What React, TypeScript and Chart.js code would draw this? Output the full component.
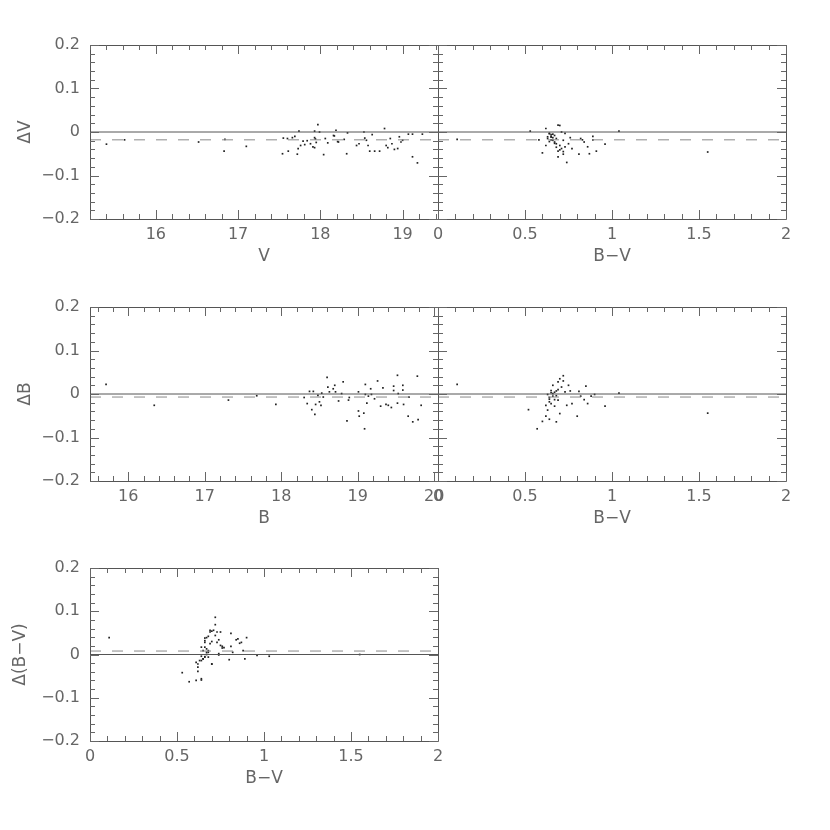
import React, { useEffect, useRef } from 'react';
import { Chart, registerables } from 'chart.js';

Chart.register(...registerables);

// ---------- data ----------
// Panel 1: ΔV vs V
const p1V = [15.40, 15.62, 16.52, 16.83, 16.84, 17.10, 17.54, 17.55, 17.60, 17.61, 17.66, 17.69, 17.72, 17.73, 17.74, 17.76, 17.79, 17.81, 17.84, 17.88, 17.93, 17.93, 17.93, 17.97, 17.95, 17.99, 18.04, 18.06, 18.09, 18.17, 18.19, 18.22, 18.32, 18.33, 18.29, 18.44, 18.47, 18.53, 18.54, 18.56, 18.58, 18.60, 18.63, 18.66, 18.72, 18.78, 18.80, 18.82, 18.85, 18.87, 18.90, 18.94, 18.96, 18.98, 19.00, 19.07, 19.12, 19.12, 19.18, 19.24, 17.94, 17.91, 18.21, 18.16];
const p1dV = [-0.028, -0.018, -0.023, -0.044, -0.017, -0.033, -0.050, -0.014, -0.015, -0.044, -0.013, -0.010, -0.051, -0.038, 0.002, -0.031, -0.021, -0.029, -0.020, -0.027, -0.036, -0.013, 0.002, 0.017, -0.024, 0.000, -0.052, -0.015, -0.025, -0.009, 0.004, -0.023, -0.050, -0.002, -0.017, -0.031, -0.027, 0.000, -0.014, -0.019, -0.031, -0.044, -0.006, -0.044, -0.044, 0.008, -0.031, -0.036, -0.015, -0.027, -0.040, -0.038, -0.011, -0.023, -0.019, -0.005, -0.005, -0.057, -0.071, -0.005, -0.016, -0.034, -0.022, -0.008];

// Panel 2: ΔV vs B−V
const p2BV = [0.11, 0.53, 0.58, 0.60, 0.62, 0.62, 0.63, 0.64, 0.65, 0.65, 0.66, 0.66, 0.67, 0.67, 0.68, 0.68, 0.69, 0.69, 0.70, 0.70, 0.71, 0.71, 0.72, 0.72, 0.73, 0.74, 0.75, 0.76, 0.77, 0.81, 0.82, 0.83, 0.84, 0.86, 0.87, 0.89, 0.89, 0.91, 0.96, 1.04, 1.55, 0.64, 0.65, 0.66, 0.64, 0.67, 0.68, 0.70, 0.72, 0.69, 0.73, 0.63, 0.65];
const p2dV = [-0.017, 0.002, -0.018, -0.048, 0.008, -0.031, -0.011, -0.004, -0.010, -0.018, -0.005, -0.013, -0.023, -0.008, -0.027, -0.015, -0.057, -0.044, 0.015, -0.031, 0.000, -0.038, -0.019, -0.051, -0.034, -0.070, -0.027, -0.013, -0.038, -0.051, -0.015, -0.018, -0.023, -0.034, -0.050, -0.010, -0.018, -0.044, -0.028, 0.002, -0.046, -0.003, -0.012, -0.019, -0.022, -0.026, -0.035, -0.041, -0.045, 0.016, -0.003, -0.015, -0.006];

// Panel 3: ΔB vs B
const p3B = [15.71, 16.34, 17.31, 17.68, 17.93, 18.30, 18.34, 18.37, 18.40, 18.42, 18.44, 18.45, 18.48, 18.50, 18.52, 18.53, 18.55, 18.60, 18.61, 18.63, 18.68, 18.70, 18.71, 18.75, 18.79, 18.81, 18.86, 18.88, 18.89, 19.01, 19.01, 19.02, 19.08, 19.09, 19.10, 19.10, 19.12, 19.14, 19.17, 19.18, 19.22, 19.26, 19.30, 19.33, 19.37, 19.40, 19.44, 19.47, 19.47, 19.52, 19.52, 19.53, 19.59, 19.59, 19.60, 19.66, 19.67, 19.72, 19.79, 19.78, 19.83];
const p3dB = [0.022, -0.026, -0.014, -0.004, -0.024, -0.008, -0.022, 0.006, -0.036, 0.006, -0.047, -0.024, -0.003, -0.018, -0.026, 0.002, -0.007, 0.038, 0.016, 0.005, 0.012, 0.020, 0.005, -0.016, 0.001, 0.028, -0.062, -0.014, -0.008, 0.005, -0.039, -0.051, -0.044, -0.080, 0.022, -0.001, -0.021, -0.005, 0.012, -0.001, -0.011, 0.030, -0.028, 0.014, -0.024, -0.026, -0.031, 0.008, 0.018, 0.043, -0.021, 0.001, 0.020, 0.009, -0.024, -0.051, -0.007, -0.064, -0.059, 0.041, -0.026];

// Panel 4: ΔB vs B−V
const p4BV = [0.11, 0.52, 0.57, 0.60, 0.62, 0.62, 0.63, 0.63, 0.64, 0.64, 0.64, 0.65, 0.65, 0.66, 0.66, 0.66, 0.67, 0.67, 0.68, 0.68, 0.69, 0.69, 0.69, 0.70, 0.70, 0.71, 0.72, 0.72, 0.73, 0.74, 0.75, 0.76, 0.77, 0.80, 0.81, 0.82, 0.84, 0.85, 0.86, 0.88, 0.90, 0.96, 1.04, 1.55, 0.65, 0.67, 0.68, 0.64];
const p4dB = [0.022, -0.036, -0.080, -0.063, -0.051, -0.026, -0.037, -0.001, -0.058, -0.008, -0.018, 0.008, -0.022, 0.001, 0.020, -0.005, -0.028, -0.013, 0.007, -0.064, 0.028, -0.014, 0.010, 0.035, -0.045, 0.016, 0.030, 0.042, 0.005, -0.026, 0.020, 0.007, -0.022, -0.051, 0.006, -0.005, -0.013, 0.018, -0.022, -0.005, -0.001, -0.028, 0.002, -0.044, 0.003, 0.004, -0.004, -0.012];

// Panel 5: Δ(B−V) vs B−V
const p5BV = [0.11, 0.53, 0.57, 0.62, 0.64, 0.62, 0.64, 0.65, 0.66, 0.67, 0.67, 0.68, 0.66, 0.66, 0.67, 0.69, 0.69, 0.70, 0.70, 0.72, 0.72, 0.73, 0.74, 0.74, 0.75, 0.76, 0.77, 0.80, 0.81, 0.81, 0.82, 0.84, 0.86, 0.88, 0.89, 0.90, 0.96, 1.03, 1.55, 0.69, 0.71, 0.66, 0.68, 0.72, 0.66, 0.70, 0.73, 0.75, 0.76, 0.64, 0.65, 0.67, 0.68, 0.64, 0.65, 0.63, 0.66, 0.61, 0.62, 0.70, 0.68, 0.87, 0.85, 0.74, 0.61, 0.64];
const p5dBV = [0.039, -0.042, -0.063, -0.039, -0.059, -0.022, -0.014, -0.010, -0.005, 0.000, 0.005, 0.009, 0.017, 0.032, 0.039, 0.052, 0.025, -0.022, 0.054, 0.086, 0.069, 0.052, 0.034, 0.002, 0.052, 0.019, 0.016, -0.012, 0.049, 0.019, 0.005, 0.034, 0.026, 0.009, -0.010, 0.039, -0.002, -0.004, 0.000, 0.056, 0.056, 0.038, 0.042, 0.044, 0.028, 0.030, 0.028, 0.021, 0.015, 0.017, 0.009, 0.013, 0.005, -0.004, -0.010, -0.014, -0.006, -0.018, -0.029, -0.022, -0.006, 0.028, 0.036, -0.001, -0.060, -0.056];

// axis ticks
const yMajor = [-0.2, -0.1, 0, 0.1, 0.2];
const vMajor = [16, 17, 18, 19];
const bMajor = [16, 17, 18, 19, 20];
const bvMajor = [0, 0.5, 1, 1.5, 2];

// mean offsets (dashed lines)
const offsetDV = -0.018;
const offsetDB = -0.007;
const offsetDBV = 0.008;

// ---------- styling ----------
const TEXT = '#666';
const FONT = "'DejaVu Sans', sans-serif";
const W = 830;
const XH = 50;

type Panel = {
  xs: number[]; ys: number[];
  xMin: number; xMax: number; xMajor: number[]; xMinor: number;
  xTitle: string; yTitle: string | null; offset: number;
  area: { left: number; top: number; right: number; bottom: number };
};

const panels: Panel[] = [
  { xs: p1V, ys: p1dV, xMin: 15.2, xMax: 19.43, xMajor: vMajor, xMinor: 0.2, xTitle: 'V', yTitle: 'ΔV', offset: offsetDV,
    area: { left: 90, top: 45, right: 438, bottom: 219 } },
  { xs: p2BV, ys: p2dV, xMin: 0, xMax: 2, xMajor: bvMajor, xMinor: 0.1, xTitle: 'B−V', yTitle: null, offset: offsetDV,
    area: { left: 438, top: 45, right: 786, bottom: 219 } },
  { xs: p3B, ys: p3dB, xMin: 15.5, xMax: 20.05, xMajor: bMajor, xMinor: 0.2, xTitle: 'B', yTitle: 'ΔB', offset: offsetDB,
    area: { left: 90, top: 307, right: 438, bottom: 481 } },
  { xs: p4BV, ys: p4dB, xMin: 0, xMax: 2, xMajor: bvMajor, xMinor: 0.1, xTitle: 'B−V', yTitle: null, offset: offsetDB,
    area: { left: 438, top: 307, right: 786, bottom: 481 } },
  { xs: p5BV, ys: p5dBV, xMin: 0, xMax: 2, xMajor: bvMajor, xMinor: 0.1, xTitle: 'B−V', yTitle: 'Δ(B−V)', offset: offsetDBV,
    area: { left: 90, top: 568, right: 438, bottom: 741 } },
];

const fmt = (v: number) => {
  const r = Math.round(v * 1000) / 1000;
  return r < 0 ? '−' + String(Math.abs(r)) : String(r);
};

const isMajor = (v: number, majors: number[]) => majors.some((m) => Math.abs(m - v) < 1e-6);

const framePlugin = {
  id: 'frame',
  afterDatasetsDraw(chart: any) {
    const { ctx, chartArea } = chart;
    const { left, top, right, bottom } = chartArea;
    const xs = chart.scales.x;
    const ys = chart.scales.y;
    const p: Panel = chart.options.plugins.frame.panel;
    ctx.save();
    ctx.strokeStyle = '#555';
    ctx.lineWidth = 1;
    ctx.beginPath();
    ctx.rect(Math.round(left) + 0.5, Math.round(top) + 0.5, Math.round(right - left), Math.round(bottom - top));
    ctx.stroke();
    ctx.strokeStyle = '#666';
    ctx.beginPath();
    const xStart = Math.ceil(p.xMin / p.xMinor - 1e-6);
    const xEnd = Math.floor(p.xMax / p.xMinor + 1e-6);
    for (let i = xStart; i <= xEnd; i++) {
      const v = i * p.xMinor;
      const px = Math.round(xs.getPixelForValue(v)) + 0.5;
      const len = isMajor(v, p.xMajor) ? 9 : 5;
      ctx.moveTo(px, bottom); ctx.lineTo(px, bottom - len);
      ctx.moveTo(px, top); ctx.lineTo(px, top + len);
    }
    for (let i = -10; i <= 10; i++) {
      const v = i * 0.02;
      const py = Math.round(ys.getPixelForValue(v)) + 0.5;
      const len = isMajor(v, yMajor) ? 9 : 5;
      ctx.moveTo(left, py); ctx.lineTo(left + len, py);
      ctx.moveTo(right, py); ctx.lineTo(right - len, py);
    }
    ctx.stroke();
    ctx.restore();
  },
};

function PanelChart({ panel }: { panel: Panel }) {
  const ref = useRef<HTMLCanvasElement>(null);
  useEffect(() => {
    const p = panel;
    const yW = p.yTitle ? p.area.left : 20;
    const chart = new Chart(ref.current as HTMLCanvasElement, {
      type: 'scatter',
      data: {
        datasets: [
          {
            type: 'line',
            data: [{ x: p.xMin, y: 0 }, { x: p.xMax, y: 0 }],
            borderColor: '#555', borderWidth: 1, pointRadius: 0,
          } as any,
          {
            type: 'line',
            data: [{ x: p.xMin, y: p.offset }, { x: p.xMax, y: p.offset }],
            borderColor: '#8a8a8a', borderWidth: 1, borderDash: [11, 11], pointRadius: 0,
          } as any,
          {
            data: p.xs.map((x, i) => ({ x, y: p.ys[i] })),
            pointStyle: 'rect', pointRadius: 1.2, backgroundColor: '#222', borderWidth: 0,
          },
        ],
      },
      options: {
        responsive: false,
        animation: false,
        events: [],
        layout: {
          padding: {
            left: p.area.left - yW,
            top: p.area.top,
            right: W - p.area.right,
            bottom: W - p.area.bottom - XH,
          },
        },
        plugins: {
          legend: { display: false },
          tooltip: { enabled: false },
          frame: { panel: p },
        } as any,
        scales: {
          x: {
            type: 'linear', position: 'bottom', min: p.xMin, max: p.xMax,
            afterBuildTicks: (s: any) => { s.ticks = p.xMajor.map((v) => ({ value: v })); },
            afterFit: (s: any) => { s.height = XH; },
            grid: { display: false, drawTicks: false },
            border: { display: false },
            ticks: { padding: 6, color: TEXT, font: { family: FONT, size: 16 }, callback: (v: any) => fmt(Number(v)), maxRotation: 0, autoSkip: false },
            title: { display: true, text: p.xTitle, color: TEXT, font: { family: FONT, size: 17 }, padding: { top: 0, bottom: 2 } },
          },
          y: {
            type: 'linear', position: 'left', min: -0.2, max: 0.2,
            afterBuildTicks: (s: any) => { s.ticks = yMajor.map((v) => ({ value: v })); },
            afterFit: (s: any) => { s.width = yW; },
            grid: { display: false, drawTicks: false },
            border: { display: false },
            ticks: { display: !!p.yTitle, padding: 10, color: TEXT, font: { family: FONT, size: 16 }, callback: (v: any) => fmt(Number(v)), autoSkip: false },
            title: { display: !!p.yTitle, text: p.yTitle || '', color: TEXT, font: { family: FONT, size: 17 }, padding: { top: p.yTitle === 'Δ(B−V)' ? 10 : 15, bottom: 0 } },
          },
        },
      } as any,
      plugins: [framePlugin],
    });
    return () => chart.destroy();
  }, [panel]);
  return (
    <canvas ref={ref} width={W} height={W} style={{ position: 'absolute', left: 0, top: 0, width: W, height: W }} />
  );
}

export default function App() {
  return (
    <div style={{ position: 'fixed', left: 0, top: 0, width: W, height: W, background: '#fff' }}>
      {panels.map((p, i) => (
        <PanelChart key={i} panel={p} />
      ))}
    </div>
  );
}
